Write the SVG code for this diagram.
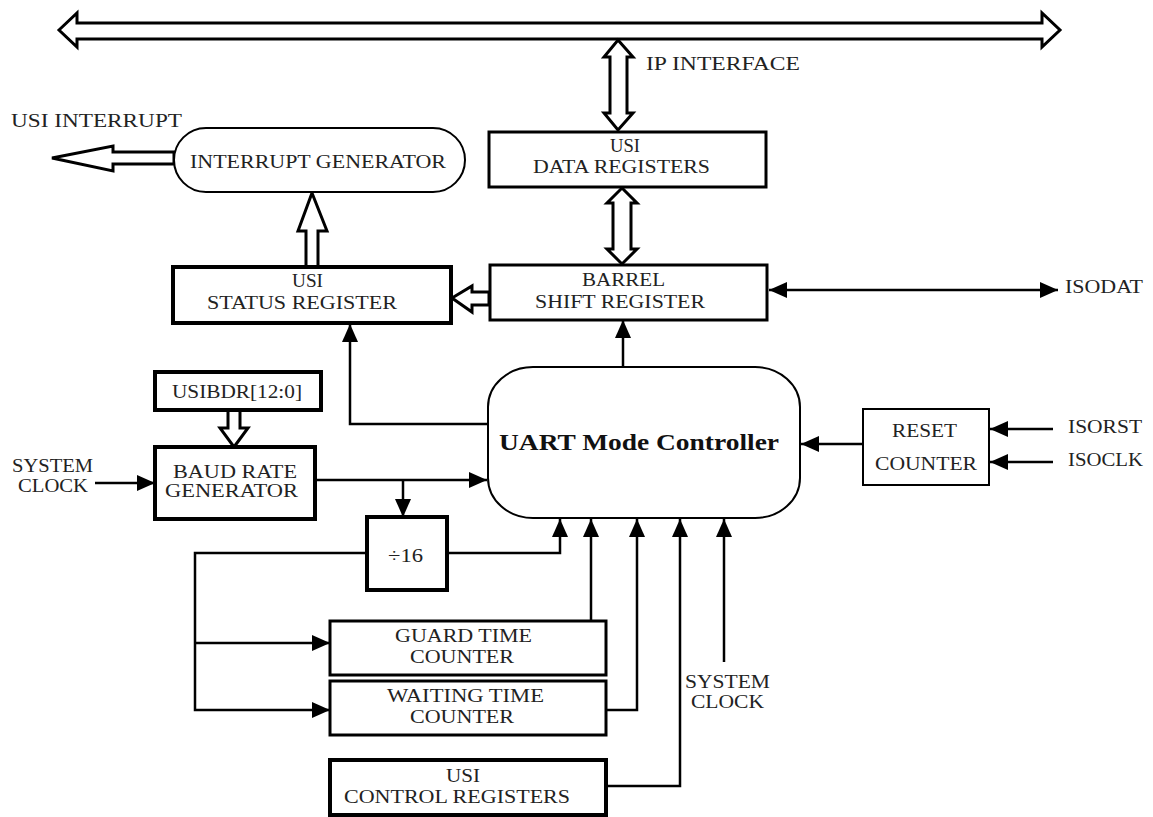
<svg xmlns="http://www.w3.org/2000/svg" width="1153" height="817" viewBox="0 0 1153 817">
<style>
  .bg{fill:#fff}
  .box{fill:#fff;stroke:#000;stroke-width:3}
  .thick{fill:#fff;stroke:#000;stroke-width:4}
  .thin{fill:#fff;stroke:#000;stroke-width:2}
  .hollow{fill:#fff;stroke:#000;stroke-width:3;stroke-linejoin:miter}
  .wire{fill:none;stroke:#000;stroke-width:2.5}
  .t{font-family:"Liberation Serif","Times New Roman",serif;font-size:18px;fill:#222}
  .m{text-anchor:middle}
  .b{font-weight:bold;font-size:24px;fill:#111}
</style>
<defs>
  <marker id="ah" viewBox="0 0 18 16" refX="18" refY="8" markerWidth="18" markerHeight="16" markerUnits="userSpaceOnUse" orient="auto-start-reverse">
    <path d="M0,0 L18,8 L0,16 z" fill="#000"/>
  </marker>
</defs>
<rect class="bg" x="0" y="0" width="1153" height="817"/>

<g id="connectors">
  <!-- hollow bus arrows -->
  <polygon class="hollow" points="59,30 77,13 77,23 1042,23 1042,13 1060,30 1042,47 1042,39 77,39 77,47"/>
  <polygon class="hollow" points="618,40 633,57 627,57 627,113 633,113 618,130 604,113 610,113 610,57 604,57"/>
  <polygon class="hollow" points="622,188 637,203 631,203 631,249 637,249 622,264 607,249 613,249 613,203 607,203"/>
  <polygon class="hollow" points="52,158 113,146 113,152 174,152 174,164 113,164 113,171"/>
  <polygon class="hollow" points="312,193 327,231 318,231 318,267 306,267 306,231 298,231"/>
  <polygon class="hollow" points="452,298 472,286 472,292 489,292 489,305 472,305 472,312"/>
  <polygon class="hollow" points="234,447 248,428 240,428 240,410 228,410 228,428 220,428"/>
  <!-- filled arrow connectors -->
  <line class="wire" x1="769" y1="290" x2="1058" y2="290" marker-start="url(#ah)" marker-end="url(#ah)"/>
  <line class="wire" x1="623" y1="367" x2="623" y2="320" marker-end="url(#ah)"/>
  <polyline class="wire" points="488,424 350,424 350,324" marker-end="url(#ah)"/>
  <line class="wire" x1="862" y1="444" x2="801" y2="444" marker-end="url(#ah)"/>
  <line class="wire" x1="1053" y1="429" x2="990" y2="429" marker-end="url(#ah)"/>
  <line class="wire" x1="1053" y1="462" x2="990" y2="462" stroke-width="4" marker-end="url(#ah)"/>
  <line class="wire" x1="95" y1="483" x2="155" y2="483" stroke-width="3" marker-end="url(#ah)"/>
  <line class="wire" x1="315" y1="480" x2="487" y2="480" stroke-width="2" marker-end="url(#ah)"/>
  <line class="wire" x1="403" y1="480" x2="403" y2="517" marker-end="url(#ah)"/>
  <polyline class="wire" points="447,553 560,553 560,519" marker-end="url(#ah)"/>
  <polyline class="wire" points="367,553 195,553 195,710 330,710" marker-end="url(#ah)"/>
  <line class="wire" x1="195" y1="643" x2="330" y2="643" stroke-width="2" marker-end="url(#ah)"/>
  <line class="wire" x1="591" y1="621" x2="591" y2="519" marker-end="url(#ah)"/>
  <polyline class="wire" points="606,710 637,710 637,519" marker-end="url(#ah)"/>
  <polyline class="wire" points="606,786 680,786 680,519" marker-end="url(#ah)"/>
  <line class="wire" x1="724" y1="662" x2="724" y2="519" marker-end="url(#ah)"/>
</g>

<g id="labels">
  <text class="t" x="646" y="70" textLength="154" lengthAdjust="spacingAndGlyphs">IP INTERFACE</text>
  <text class="t" x="11" y="127" textLength="171" lengthAdjust="spacingAndGlyphs">USI INTERRUPT</text>
  <text class="t" x="1065" y="293" textLength="78" lengthAdjust="spacingAndGlyphs">ISODAT</text>
  <text class="t" x="1068" y="433" textLength="74" lengthAdjust="spacingAndGlyphs">ISORST</text>
  <text class="t" x="1068" y="466" textLength="75" lengthAdjust="spacingAndGlyphs">ISOCLK</text>
  <text class="t" x="12" y="472" textLength="81" lengthAdjust="spacingAndGlyphs">SYSTEM</text>
  <text class="t" x="18" y="492" textLength="70" lengthAdjust="spacingAndGlyphs">CLOCK</text>
  <text class="t" x="685" y="688" textLength="85" lengthAdjust="spacingAndGlyphs">SYSTEM</text>
  <text class="t" x="691" y="708" textLength="73" lengthAdjust="spacingAndGlyphs">CLOCK</text>
</g>

<g id="interrupt-generator">
  <rect class="thin" x="174" y="128" width="291" height="64" rx="32" ry="32"/>
  <text class="t" x="190" y="168" textLength="256" lengthAdjust="spacingAndGlyphs">INTERRUPT GENERATOR</text>
</g>

<g id="data-registers">
  <rect class="box" x="489" y="132" width="277" height="55"/>
  <text class="t" x="610" y="152" textLength="30" lengthAdjust="spacingAndGlyphs">USI</text>
  <text class="t" x="533" y="173" textLength="177" lengthAdjust="spacingAndGlyphs">DATA REGISTERS</text>
</g>

<g id="status-register">
  <rect class="thick" x="173" y="267" width="278" height="56"/>
  <text class="t" x="292" y="287" textLength="31" lengthAdjust="spacingAndGlyphs">USI</text>
  <text class="t" x="207" y="309" textLength="190" lengthAdjust="spacingAndGlyphs">STATUS REGISTER</text>
</g>

<g id="barrel-shift-register">
  <rect class="box" x="490" y="265" width="277" height="55"/>
  <text class="t" x="582" y="286" textLength="83" lengthAdjust="spacingAndGlyphs">BARREL</text>
  <text class="t" x="535" y="308" textLength="170" lengthAdjust="spacingAndGlyphs">SHIFT REGISTER</text>
</g>

<g id="usibdr">
  <rect class="thick" x="155" y="372" width="166" height="38"/>
  <text class="t" x="172" y="398" textLength="130" lengthAdjust="spacingAndGlyphs">USIBDR[12:0]</text>
</g>

<g id="baud-rate-generator">
  <rect class="thick" x="155" y="447" width="160" height="72"/>
  <text class="t" x="173" y="478" textLength="124" lengthAdjust="spacingAndGlyphs">BAUD RATE</text>
  <text class="t" x="165" y="497" textLength="133" lengthAdjust="spacingAndGlyphs">GENERATOR</text>
</g>

<g id="uart-mode-controller">
  <rect class="thin" x="488" y="367" width="312" height="151" rx="45" ry="40" stroke-width="2.5"/>
  <text class="t b" x="499" y="450" textLength="280" lengthAdjust="spacingAndGlyphs">UART Mode Controller</text>
</g>

<g id="reset-counter">
  <rect class="thin" x="863" y="409" width="126" height="76"/>
  <text class="t" x="892" y="437" textLength="65" lengthAdjust="spacingAndGlyphs">RESET</text>
  <text class="t" x="875" y="470" textLength="102" lengthAdjust="spacingAndGlyphs">COUNTER</text>
</g>

<g id="divide-16">
  <rect class="thick" x="367" y="517" width="80" height="73"/>
  <text class="t" x="388" y="562" textLength="35" lengthAdjust="spacingAndGlyphs">÷16</text>
</g>

<g id="guard-time-counter">
  <rect class="box" x="330" y="621" width="276" height="54"/>
  <text class="t" x="395" y="642" textLength="137" lengthAdjust="spacingAndGlyphs">GUARD TIME</text>
  <text class="t" x="410" y="663" textLength="104" lengthAdjust="spacingAndGlyphs">COUNTER</text>
</g>

<g id="waiting-time-counter">
  <rect class="box" x="330" y="681" width="276" height="54"/>
  <text class="t" x="387" y="702" textLength="157" lengthAdjust="spacingAndGlyphs">WAITING TIME</text>
  <text class="t" x="410" y="723" textLength="104" lengthAdjust="spacingAndGlyphs">COUNTER</text>
</g>

<g id="control-registers">
  <rect class="thick" x="330" y="760" width="276" height="55"/>
  <text class="t" x="446" y="782" textLength="34" lengthAdjust="spacingAndGlyphs">USI</text>
  <text class="t" x="344" y="803" textLength="226" lengthAdjust="spacingAndGlyphs">CONTROL REGISTERS</text>
</g>
</svg>
